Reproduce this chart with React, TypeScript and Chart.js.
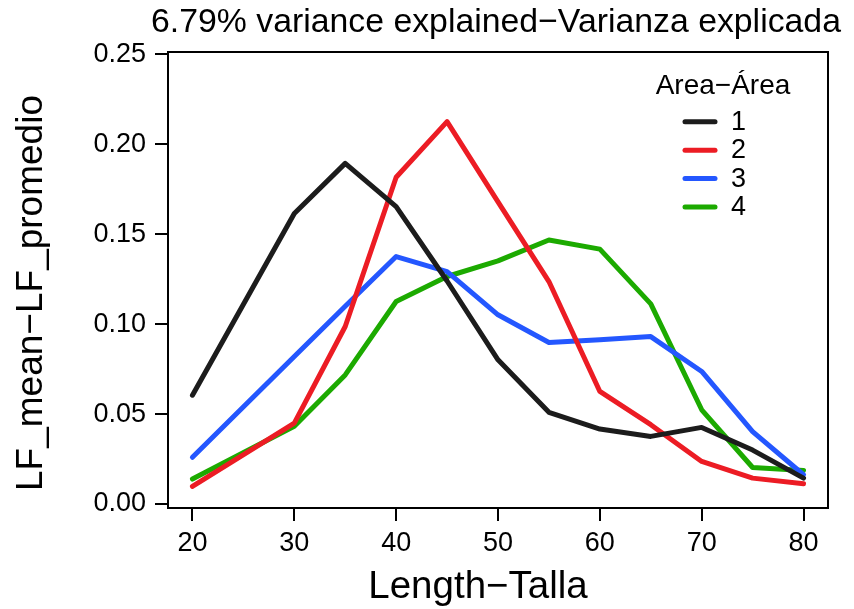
import React, { useEffect, useRef } from "react";
import { Chart, registerables } from "chart.js";

Chart.register(...registerables);

// ---- data ----
const lengths = [20, 30, 35, 40, 45, 50, 55, 60, 65, 70, 75, 80];
const area1 = [0.0605, 0.1615, 0.1894, 0.1653, 0.124, 0.0802, 0.051, 0.0417, 0.0376, 0.0426, 0.030, 0.0144];
const area2 = [0.0098, 0.045, 0.0987, 0.1817, 0.2126, 0.168, 0.1237, 0.0626, 0.0441, 0.0237, 0.0144, 0.0113];
const area3 = [0.026, 0.082, 0.110, 0.1376, 0.1292, 0.1052, 0.0898, 0.0913, 0.0931, 0.0737, 0.0403, 0.0163];
const area4 = [0.0139, 0.0432, 0.0718, 0.1126, 0.1265, 0.1352, 0.1468, 0.1417, 0.1113, 0.0524, 0.0203, 0.0187];

const areaLabels = ["1", "2", "3", "4"];
const areaColors = ["#1c1c1c", "#ec1c24", "#2457ff", "#1caa00"];
const xTicks = [20, 30, 40, 50, 60, 70, 80];
const yTicks = [0, 0.05, 0.1, 0.15, 0.2, 0.25];

const titleText = "6.79% variance explained\u2212Varianza explicada";
const xTitle = "Length\u2212Talla";
const yTitle = "LF_mean\u2212LF_promedio";
const legendTitle = "Area\u2212\u00c1rea";

const FONT = "'Liberation Sans', Arial, Helvetica, sans-serif";

const textPlugin = {
  id: "rtext",
  afterDraw(chart: any) {
    const { ctx, chartArea } = chart;
    const cx = (chartArea.left + chartArea.right) / 2;
    ctx.save();
    // box
    ctx.strokeStyle = "#000";
    ctx.lineWidth = 2;
    ctx.strokeRect(chartArea.left, chartArea.top, chartArea.right - chartArea.left, chartArea.bottom - chartArea.top);

    ctx.fillStyle = "#000";
    ctx.textAlign = "center";
    ctx.textBaseline = "alphabetic";
    // main title
    ctx.font = `33.8px ${FONT}`;
    ctx.fillText(titleText, cx - 2, 32);
    // x title
    ctx.font = `38.5px ${FONT}`;
    ctx.fillText(xTitle, 478, 598);
    // y title
    ctx.save();
    ctx.font = `37px ${FONT}`;
    ctx.translate(42, 293);
    ctx.rotate(-Math.PI / 2);
    ctx.fillText(yTitle, 0, 0);
    ctx.restore();

    // legend
    ctx.font = `28px ${FONT}`;
    ctx.textAlign = "center";
    ctx.fillText(legendTitle, 723, 94);
    ctx.font = `27px ${FONT}`;
    ctx.textAlign = "left";
    const rowY = [121.7, 150.2, 178.6, 207];
    areaLabels.forEach((lab, i) => {
      const y = rowY[i];
      ctx.strokeStyle = areaColors[i];
      ctx.lineWidth = 5;
      ctx.lineCap = "round";
      ctx.beginPath();
      ctx.moveTo(685, y);
      ctx.lineTo(715, y);
      ctx.stroke();
      ctx.fillStyle = "#000";
      ctx.fillText(lab, 731, y + 8);
    });
    ctx.restore();
  },
};

export default function App() {
  const ref = useRef<HTMLCanvasElement | null>(null);
  useEffect(() => {
    document.body.style.margin = "0";
    const canvas = ref.current;
    if (!canvas) return;
    const series = [area1, area2, area3, area4];
    const chart = new Chart(canvas, {
      type: "line",
      data: {
        datasets: series.map((vals, i) => ({
          label: areaLabels[i],
          data: lengths.map((x, j) => ({ x, y: vals[j] })),
          borderColor: areaColors[i],
          backgroundColor: areaColors[i],
          borderWidth: 5,
          pointRadius: 0,
          tension: 0,
          borderCapStyle: "round",
          borderJoinStyle: "round",
          fill: false,
        })),
      },
      options: {
        responsive: false,
        animation: false,
        devicePixelRatio: 1,
        layout: { padding: { top: 52, right: 26, left: 0, bottom: 0 } },
        plugins: {
          legend: { display: false },
          title: { display: false },
          tooltip: { enabled: false },
        },
        scales: {
          x: {
            type: "linear",
            min: 17.6,
            max: 82.4,
            afterFit: (s: any) => {
              s.height = 101;
            },
            afterBuildTicks: (s: any) => {
              s.ticks = xTicks.map((v) => ({ value: v }));
            },
            grid: {
              display: true,
              drawOnChartArea: false,
              drawTicks: true,
              tickLength: 13,
              color: "#000",
              lineWidth: 2,
            },
            border: { display: false },
            ticks: {
              color: "#000",
              font: { family: FONT, size: 27 },
              padding: 6,
              maxRotation: 0,
              autoSkip: false,
              callback: (v: any) => String(v),
            },
          },
          y: {
            type: "linear",
            min: -0.0022,
            max: 0.2513,
            afterFit: (s: any) => {
              s.width = 168;
            },
            afterBuildTicks: (s: any) => {
              s.ticks = yTicks.map((v) => ({ value: v }));
            },
            grid: {
              display: true,
              drawOnChartArea: false,
              drawTicks: true,
              tickLength: 13,
              color: "#000",
              lineWidth: 2,
            },
            border: { display: false },
            ticks: {
              color: "#000",
              font: { family: FONT, size: 27 },
              padding: 9,
              autoSkip: false,
              callback: (v: any) => Number(v).toFixed(2),
            },
          },
        },
      },
      plugins: [textPlugin],
    } as any);
    return () => chart.destroy();
  }, []);
  return (
    <div style={{ position: "absolute", left: 0, top: 0, width: 854, height: 609, background: "#fff" }}>
      <canvas ref={ref} width={854} height={609} style={{ width: 854, height: 609, display: "block" }} />
    </div>
  );
}
